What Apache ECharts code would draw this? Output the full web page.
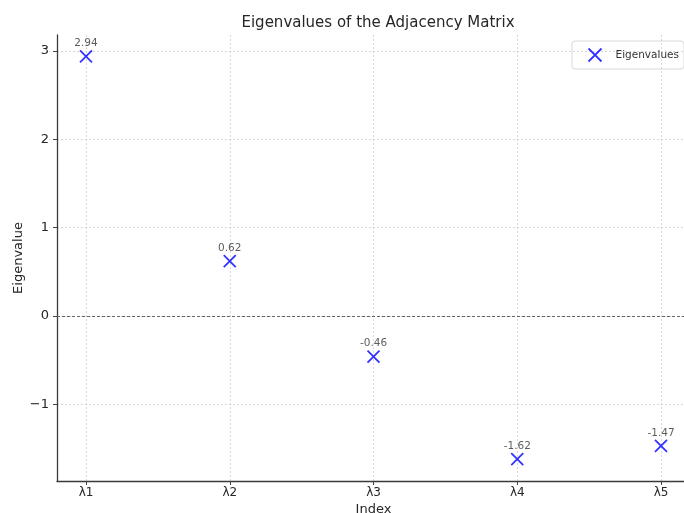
<!DOCTYPE html>
<html><head><meta charset="utf-8">
<script src="https://cdn.jsdelivr.net/npm/echarts@6/dist/echarts.min.js"></script>
<style>html,body{margin:0;padding:0;background:#fff}#c{width:684px;height:513px}</style>
</head><body><div id="c"></div>
<script>
const categories = ['λ1', 'λ2', 'λ3', 'λ4', 'λ5'];
const eigenvalues = [2.94, 0.62, -0.46, -1.62, -1.47];
const yTicks = [-1, 0, 1, 2, 3];

const FONT = 'DejaVu Sans';
const xSym = 'path://M0,0L10,10M10,0L0,10';
const points = eigenvalues.map((v, i) => [i, v]);

const chart = echarts.init(document.getElementById('c'), null, {renderer: 'canvas'});
chart.setOption({
  animation: false,
  textStyle: {fontFamily: FONT},
  title: {
    text: 'Eigenvalues of the Adjacency Matrix',
    left: 373, top: 11, textAlign: 'center',
    textStyle: {fontFamily: FONT, fontSize: 15, fontWeight: 'normal', color: '#262626'}
  },
  legend: {
    data: [{name: 'Eigenvalues', icon: xSym, itemStyle: {color: 'none', borderColor: '#0000ff', borderWidth: 1.8}}],
    right: 0, top: 41,
    itemWidth: 13, itemHeight: 13, itemGap: 8,
    padding: [5, 5, 5, 14],
    borderColor: '#d8d8d8', borderWidth: 1, borderRadius: 3,
    textStyle: {fontFamily: FONT, fontSize: 10.5, color: '#333', padding: [0, 0, 0, 9]}
  },
  grid: [
    {left: 86, right: 23, top: 35, bottom: 32, outerBoundsMode: 'none', containLabel: false},
    {left: 57, right: -6, top: 51, bottom: 108.67, outerBoundsMode: 'none', containLabel: false},
    {left: 57, right: -6, top: 35, bottom: 32, outerBoundsMode: 'none', containLabel: false}
  ],
  xAxis: [
    {gridIndex: 0, type: 'value', min: 0, max: categories.length - 1, interval: 1,
     axisLine: {show: false, onZero: false},
     axisTick: {show: true, length: 4, lineStyle: {color: '#444'}},
     axisLabel: {fontFamily: FONT, fontSize: 12, color: '#262626', margin: 6,
                 formatter: v => categories[v] || ''},
     splitLine: {show: true, lineStyle: {color: '#cfcfcf', type: [2, 2], width: 0.8}}},
    {gridIndex: 1, type: 'value', min: 0, max: 1, show: false},
    {gridIndex: 2, type: 'value', min: 0, max: 1,
     axisLine: {show: true, onZero: false, lineStyle: {color: '#3a3a3a', width: 1.3}},
     axisTick: {show: false}, axisLabel: {show: false}, splitLine: {show: false},
     name: 'Index', nameLocation: 'middle', nameGap: 22,
     nameTextStyle: {fontFamily: FONT, fontSize: 13, color: '#262626'}}
  ],
  yAxis: [
    {gridIndex: 0, type: 'value', min: -1.868, max: 3.181, show: false},
    {gridIndex: 1, type: 'value', min: yTicks[0], max: yTicks[yTicks.length - 1], interval: 1,
     axisLine: {show: false, onZero: false},
     axisTick: {show: true, length: 4, lineStyle: {color: '#444'}},
     axisLabel: {fontFamily: FONT, fontSize: 13, color: '#262626', margin: 8,
                 formatter: v => String(v).replace('-', '\u2212')},
     splitLine: {show: true, lineStyle: {color: '#cfcfcf', type: [2, 2], width: 0.8}}},
    {gridIndex: 2, type: 'value', min: 0, max: 1,
     axisLine: {show: true, onZero: false, lineStyle: {color: '#3a3a3a', width: 1.3}},
     axisTick: {show: false}, axisLabel: {show: false}, splitLine: {show: false},
     name: 'Eigenvalue', nameLocation: 'middle', nameGap: 32,
     nameTextStyle: {fontFamily: FONT, fontSize: 13, color: '#262626'}}
  ],
  series: [
    {
      type: 'line', xAxisIndex: 1, yAxisIndex: 1, data: [], silent: true,
      markLine: {
        silent: true, symbol: 'none', label: {show: false},
        lineStyle: {color: '#666', type: [3, 2], width: 1},
        data: [{yAxis: 0}]
      }
    },
    {
      name: 'Eigenvalues', type: 'scatter', xAxisIndex: 0, yAxisIndex: 0,
      data: points, clip: false,
      symbol: xSym, symbolSize: 12,
      itemStyle: {color: 'none', borderColor: '#0000ff', borderWidth: 1.8},
      label: {show: true, position: 'top', distance: -1,
              fontFamily: FONT, fontSize: 10.5, color: '#333',
              formatter: p => p.value[1].toFixed(2)},
      z: 5
    }
  ]
});
</script>
</body></html>
